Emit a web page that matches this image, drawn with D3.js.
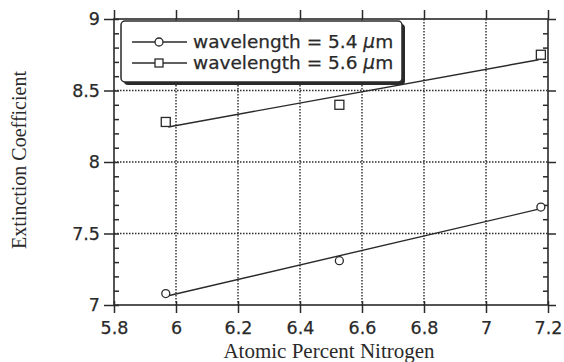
<!DOCTYPE html>
<html><head><meta charset="utf-8">
<script src="https://cdn.jsdelivr.net/npm/d3@7"></script>
<style>body{margin:0;background:#fff}svg{display:block}</style>
</head><body>
<script>
const xTicks = [5.8, 6, 6.2, 6.4, 6.6, 6.8, 7, 7.2];
const yTicks = [7, 7.5, 8, 8.5, 9];
const xData = [5.967, 6.527, 7.177];
const y54 = [7.08, 7.31, 7.685];
const y56 = [8.28, 8.40, 8.75];
const fit54 = [[5.975, 7.065], [7.17, 7.67]];
const fit56 = [[5.975, 8.245], [7.17, 8.715]];
const legendLabels = ["wavelength = 5.4 ", "wavelength = 5.6 "];

const W = 564, H = 362;
const m = {l: 114, r: 16, t: 19, b: 57};
const svg = d3.select("body").append("svg").attr("width", W).attr("height", H);
const x = d3.scaleLinear().domain([5.8, 7.2]).range([m.l, W - m.r]);
const y = d3.scaleLinear().domain([7, 9]).range([H - m.b, m.t]);
const ink = "#2a2a2a";
const sans = "DejaVu Sans, Verdana, sans-serif";
const serif = "Liberation Serif, Times New Roman, serif";

// gridlines
const g = svg.append("g").attr("stroke", ink).attr("stroke-width", 1.4).attr("stroke-dasharray", "1.5,1.5");
g.selectAll("line.vx").data(xTicks.slice(1, -1)).join("line")
  .attr("x1", d => x(d)).attr("x2", d => x(d)).attr("y1", y(9)).attr("y2", y(7));
g.selectAll("line.hy").data(yTicks.slice(1, -1)).join("line")
  .attr("y1", d => y(d)).attr("y2", d => y(d)).attr("x1", x(5.8)).attr("x2", x(7.2));

// frame
svg.append("rect").attr("x", x(5.8)).attr("y", y(9)).attr("width", x(7.2) - x(5.8)).attr("height", y(7) - y(9))
  .attr("fill", "none").attr("stroke", ink).attr("stroke-width", 1.6);

// axes
const fmt = d => d3.format("")(d);
svg.append("g").attr("transform", `translate(0,${y(7)})`)
  .call(d3.axisBottom(x).tickValues(xTicks).tickFormat(fmt).tickSize(8).tickPadding(9));
svg.append("g").attr("transform", `translate(0,${y(9)})`)
  .call(d3.axisTop(x).tickValues(xTicks).tickFormat("").tickSize(9));
svg.append("g").attr("transform", `translate(${x(5.8)},0)`)
  .call(d3.axisLeft(y).tickValues(yTicks).tickFormat(fmt).tickSize(10).tickPadding(4));
svg.append("g").attr("transform", `translate(${x(7.2)},0)`)
  .call(d3.axisRight(y).tickValues(yTicks).tickFormat("").tickSize(8));
// minor ticks inward
const minor = d3.range(7.1, 9, 0.1).filter(v => Math.abs(v * 2 - Math.round(v * 2)) > 0.01);
svg.append("g").attr("transform", `translate(${x(5.8)},0)`)
  .call(d3.axisRight(y).tickValues(minor).tickFormat("").tickSize(5));
svg.append("g").attr("transform", `translate(${x(7.2)},0)`)
  .call(d3.axisLeft(y).tickValues(minor).tickFormat("").tickSize(5));
// major ticks inward short
svg.append("g").attr("transform", `translate(${x(5.8)},0)`)
  .call(d3.axisRight(y).tickValues(yTicks).tickFormat("").tickSize(5));
svg.append("g").attr("transform", `translate(0,${y(7)})`)
  .call(d3.axisTop(x).tickValues(xTicks).tickFormat("").tickSize(4));

svg.selectAll(".domain").remove();
svg.selectAll(".tick line").attr("stroke", ink).attr("stroke-width", 1.5);
svg.selectAll(".tick text").attr("font-family", sans)
  .attr("font-size", 17.5).attr("fill", ink).attr("stroke", ink).attr("stroke-width", 0.25);

// fit lines
const line = d3.line().x(d => x(d[0])).y(d => y(d[1]));
[fit54, fit56].forEach(f => svg.append("path").attr("d", line(f)).attr("fill", "none")
  .attr("stroke", ink).attr("stroke-width", 1.4));

// markers
svg.selectAll("circle.p").data(xData.map((d, i) => [d, y54[i]])).join("circle")
  .attr("cx", d => x(d[0])).attr("cy", d => y(d[1])).attr("r", 4)
  .attr("fill", "#fff").attr("stroke", ink).attr("stroke-width", 1.3);
svg.selectAll("rect.p").data(xData.map((d, i) => [d, y56[i]])).join("rect")
  .attr("x", d => x(d[0]) - 4.5).attr("y", d => y(d[1]) - 4.5).attr("width", 9).attr("height", 9)
  .attr("fill", "#fff").attr("stroke", ink).attr("stroke-width", 1.3);

// legend
const lg = svg.append("g");
lg.append("rect").attr("x", 124).attr("y", 24).attr("width", 281).attr("height", 61).attr("rx", 4)
  .attr("fill", ink);
lg.append("rect").attr("x", 121).attr("y", 21).attr("width", 281).attr("height", 61).attr("rx", 4)
  .attr("fill", "#fff").attr("stroke", ink).attr("stroke-width", 1.5);
legendLabels.forEach((t, i) => {
  const yy = 42 + i * 21;
  lg.append("line").attr("x1", 132).attr("x2", 187).attr("y1", yy).attr("y2", yy)
    .attr("stroke", ink).attr("stroke-width", 1.3);
  if (i === 0) lg.append("circle").attr("cx", 159).attr("cy", yy).attr("r", 4)
    .attr("fill", "#fff").attr("stroke", ink).attr("stroke-width", 1.3);
  else lg.append("rect").attr("x", 155).attr("y", yy - 4).attr("width", 8).attr("height", 8)
    .attr("fill", "#fff").attr("stroke", ink).attr("stroke-width", 1.3);
  const tx = lg.append("text").attr("x", 193).attr("y", yy + 5.5)
    .attr("font-family", sans).attr("font-size", 18.5)
    .attr("fill", ink).attr("stroke", ink).attr("stroke-width", 0.25)
    .attr("xml:space", "preserve").text(t);
  tx.append("tspan").attr("font-style", "italic").text("\u03bc");
  tx.append("tspan").text("m");
});

// axis titles
svg.append("text").attr("x", 329).attr("y", 358).attr("text-anchor", "middle")
  .attr("font-family", serif).attr("font-size", 21).attr("fill", ink)
  .text("Atomic Percent Nitrogen");
svg.append("text").attr("transform", "translate(26,160) rotate(-90)").attr("text-anchor", "middle")
  .attr("font-family", serif).attr("font-size", 20).attr("fill", ink)
  .text("Extinction Coefficient");
</script>
</body></html>
